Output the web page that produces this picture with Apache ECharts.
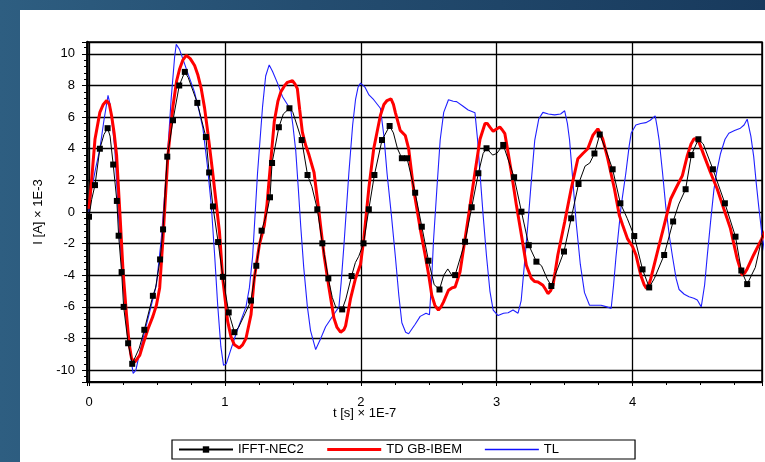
<!DOCTYPE html>
<html><head><meta charset="utf-8">
<script src="https://cdn.jsdelivr.net/npm/echarts@6/dist/echarts.min.js"></script>
<style>
html,body{margin:0;padding:0;width:765px;height:462px;overflow:hidden;}
body{background:linear-gradient(to right,#2e5e81 0%,#244d70 40%,#183a5d 100%);position:relative;}
#panel{position:absolute;left:20px;top:10px;width:745px;height:452px;background:#fff;}
#chart{position:absolute;left:0;top:0;width:765px;height:462px;}
</style></head><body><div id="panel"></div><div id="chart"></div>
<script>
// tick labels
const xTickLabels = [0, 1, 2, 3, 4];
const yTickLabels = [-10, -8, -6, -4, -2, 0, 2, 4, 6, 8, 10];
const seriesNames = ['IFFT-NEC2', 'TD GB-IBEM', 'TL'];

// IFFT-NEC2: [t, I, hasMarker]
const nec2 = [
[0.0,-0.3,1],[0.02,0.8,0],[0.044,1.7,1],[0.08,4.0,1],[0.11,4.9,0],[0.137,5.3,1],[0.155,4.8,0],
[0.178,3.0,1],[0.205,0.7,1],[0.218,-1.5,1],[0.24,-3.8,1],[0.255,-6.0,1],[0.288,-8.3,1],[0.318,-9.6,1],
[0.33,-9.5,0],[0.37,-8.6,0],[0.407,-7.45,1],[0.47,-5.3,1],[0.49,-4.8,0],[0.523,-3.0,1],[0.545,-1.1,1],
[0.56,1.2,0],[0.576,3.5,1],[0.618,5.8,1],[0.664,8.0,1],[0.705,8.86,1],[0.73,8.5,0],[0.797,6.9,1],
[0.86,4.74,1],[0.884,2.5,1],[0.912,0.35,1],[0.95,-1.9,1],[0.985,-4.1,1],[1.028,-6.35,1],[1.07,-7.6,1],
[1.10,-7.3,0],[1.15,-6.4,0],[1.192,-5.6,1],[1.231,-3.4,1],[1.27,-1.18,1],[1.29,-0.6,0],[1.31,0.0,0],
[1.332,0.93,1],[1.347,3.1,1],[1.397,5.36,1],[1.43,6.2,0],[1.475,6.56,1],[1.50,6.3,0],[1.565,4.55,1],
[1.608,2.34,1],[1.64,1.6,0],[1.68,0.17,1],[1.717,-1.98,1],[1.761,-4.2,1],[1.79,-5.4,0],[1.815,-6.0,0],
[1.863,-6.16,1],[1.89,-5.5,0],[1.932,-4.05,1],[1.96,-3.2,0],[1.985,-2.8,0],[2.02,-1.98,1],[2.059,0.17,1],
[2.1,2.34,1],[2.156,4.55,1],[2.212,5.44,1],[2.24,5.0,0],[2.27,4.0,0],[2.302,3.4,1],[2.34,3.4,1],
[2.4,1.22,1],[2.449,-0.93,1],[2.498,-3.08,1],[2.54,-4.6,0],[2.579,-4.9,1],[2.61,-4.0,0],[2.64,-3.6,0],
[2.67,-4.0,0],[2.694,-3.99,1],[2.767,-1.88,1],[2.816,0.3,1],[2.865,2.45,1],[2.90,3.7,0],[2.925,4.03,1],
[2.97,3.6,0],[3.0,3.7,0],[3.048,4.24,1],[3.128,2.2,1],[3.182,0.02,1],[3.236,-2.1,1],[3.292,-3.14,1],
[3.33,-3.4,0],[3.37,-4.2,0],[3.402,-4.68,1],[3.43,-4.0,0],[3.495,-2.5,1],[3.548,-0.4,1],[3.602,1.77,1],
[3.65,2.9,0],[3.685,3.1,0],[3.719,3.7,1],[3.758,4.9,1],[3.80,4.0,0],[3.853,2.7,1],[3.91,0.55,1],
[3.96,-0.4,0],[4.012,-1.52,1],[4.073,-3.63,1],[4.122,-4.77,1],[4.16,-4.2,0],[4.232,-2.72,1],[4.298,-0.6,1],
[4.34,0.5,0],[4.39,1.44,1],[4.432,3.6,1],[4.484,4.6,1],[4.52,4.3,0],[4.591,2.7,1],[4.679,0.55,1],
[4.757,-1.56,1],[4.8,-3.7,1],[4.843,-4.56,1],[4.903,-3.5,0],[4.95,-1.7,0],[4.99,-0.5,0]
];

// TD GB-IBEM: [t, I]
const tdgb = [
[0.0,0.2],[0.02,2.1],[0.044,4.6],[0.08,6.3],[0.105,6.8],[0.13,7.05],[0.15,6.8],[0.166,6.1],[0.185,5.0],
[0.203,3.6],[0.227,0.0],[0.251,-3.8],[0.276,-6.5],[0.295,-8.3],[0.313,-9.26],[0.337,-9.5],[0.374,-9.05],
[0.40,-8.3],[0.434,-7.4],[0.47,-6.6],[0.496,-5.9],[0.52,-4.8],[0.544,-1.7],[0.581,3.6],[0.618,6.7],
[0.645,8.3],[0.667,9.05],[0.69,9.6],[0.716,9.9],[0.745,9.7],[0.777,9.26],[0.80,8.7],[0.826,7.8],
[0.85,6.6],[0.874,5.05],[0.91,2.5],[0.96,-1.26],[0.984,-4.2],[1.02,-6.9],[1.045,-7.9],[1.07,-8.4],
[1.106,-8.6],[1.13,-8.4],[1.155,-8.0],[1.192,-6.5],[1.216,-4.2],[1.253,-2.1],[1.29,-0.84],[1.31,0.5],
[1.326,2.1],[1.363,5.7],[1.39,7.0],[1.412,7.6],[1.44,8.0],[1.46,8.2],[1.497,8.3],[1.515,8.1],[1.533,7.8],
[1.55,6.5],[1.57,5.05],[1.595,4.2],[1.619,3.6],[1.656,2.5],[1.692,0.0],[1.729,-2.7],[1.766,-4.8],
[1.802,-6.7],[1.825,-7.3],[1.851,-7.6],[1.875,-7.45],[1.888,-7.2],[1.905,-6.4],[1.924,-5.5],[1.961,-4.2],
[1.998,-3.3],[2.022,-1.7],[2.059,1.5],[2.095,4.0],[2.144,6.1],[2.17,6.8],[2.193,7.05],[2.222,7.16],
[2.24,6.8],[2.254,6.3],[2.29,5.16],[2.327,4.84],[2.352,4.0],[2.388,1.47],[2.437,-1.05],[2.473,-2.7],
[2.50,-4.0],[2.522,-5.26],[2.545,-5.9],[2.571,-6.2],[2.59,-6.0],[2.608,-5.7],[2.645,-4.95],[2.67,-4.8],
[2.694,-4.74],[2.73,-3.8],[2.767,-1.7],[2.804,0.42],[2.84,2.5],[2.877,4.6],[2.914,5.6],[2.93,5.6],
[2.95,5.37],[2.974,5.1],[2.99,5.2],[3.023,5.37],[3.04,5.2],[3.06,4.95],[3.085,3.7],[3.108,2.5],
[3.145,0.42],[3.182,-1.47],[3.218,-3.37],[3.255,-4.2],[3.28,-4.4],[3.304,-4.42],[3.34,-4.63],[3.36,-4.9],
[3.377,-5.16],[3.395,-5.0],[3.414,-4.63],[3.43,-3.8],[3.45,-2.7],[3.50,-0.63],[3.548,1.47],[3.597,3.37],
[3.634,3.7],[3.67,4.0],[3.707,4.84],[3.744,5.26],[3.76,5.0],[3.78,4.63],[3.817,3.37],[3.866,1.47],
[3.902,-0.2],[3.927,-0.84],[3.963,-1.7],[4.0,-2.2],[4.024,-2.7],[4.06,-4.0],[4.085,-4.6],[4.102,-4.84],
[4.12,-4.6],[4.134,-4.2],[4.183,-2.5],[4.232,-0.84],[4.281,0.84],[4.317,1.47],[4.366,2.3],[4.403,3.58],
[4.43,4.3],[4.452,4.63],[4.47,4.6],[4.488,4.42],[4.525,3.58],[4.573,2.5],[4.622,1.47],[4.671,0.2],
[4.72,-1.05],[4.769,-2.95],[4.806,-4.0],[4.825,-3.85],[4.843,-3.6],[4.891,-2.7],[4.95,-1.7],[4.99,-0.9]
];

// TL: [t, I]
const tl = [
[0.0,0.0],[0.02,1.5],[0.05,2.8],[0.08,4.0],[0.11,5.8],[0.14,7.37],[0.155,6.8],[0.19,4.0],[0.215,0.0],
[0.244,-3.8],[0.276,-6.9],[0.30,-8.8],[0.325,-10.2],[0.345,-10.0],[0.37,-9.0],[0.40,-7.9],[0.447,-6.3],
[0.496,-4.6],[0.532,-1.7],[0.569,2.5],[0.605,7.2],[0.63,9.8],[0.642,10.6],[0.665,10.3],[0.69,9.7],
[0.73,8.7],[0.776,7.6],[0.81,6.4],[0.838,5.3],[0.87,3.0],[0.90,0.4],[0.925,-2.8],[0.947,-5.9],
[0.97,-8.5],[0.99,-9.7],[1.01,-9.6],[1.04,-8.8],[1.082,-7.7],[1.155,-6.0],[1.18,-4.8],[1.204,-2.8],
[1.24,2.45],[1.277,6.66],[1.30,8.6],[1.326,9.3],[1.35,8.9],[1.387,8.15],[1.423,7.3],[1.46,6.8],
[1.485,6.45],[1.50,5.5],[1.521,3.9],[1.54,1.5],[1.558,-0.9],[1.58,-3.5],[1.607,-6.0],[1.63,-7.5],
[1.668,-8.7],[1.70,-8.1],[1.741,-7.26],[1.80,-6.5],[1.839,-6.0],[1.855,-4.5],[1.875,-2.2],[1.912,2.45],
[1.94,5.5],[1.961,7.1],[1.98,7.9],[1.998,8.15],[2.03,7.9],[2.06,7.4],[2.095,7.1],[2.144,6.56],
[2.17,4.8],[2.193,2.45],[2.225,-0.2],[2.254,-2.8],[2.28,-5.3],[2.302,-7.0],[2.33,-7.6],[2.352,-7.7],
[2.40,-7.1],[2.437,-6.6],[2.48,-6.4],[2.505,-6.5],[2.52,-4.5],[2.535,-1.8],[2.56,1.5],[2.584,4.55],
[2.61,6.3],[2.645,7.1],[2.68,7.0],[2.705,6.98],[2.75,6.7],[2.79,6.45],[2.84,6.27],[2.86,4.5],
[2.877,2.45],[2.90,-0.2],[2.925,-2.8],[2.95,-5.0],[2.974,-6.2],[3.01,-6.55],[3.05,-6.4],[3.084,-6.37],
[3.12,-6.2],[3.157,-6.4],[3.18,-5.6],[3.205,-3.2],[3.23,-0.7],[3.255,2.0],[3.28,4.55],[3.31,5.9],
[3.34,6.3],[3.38,6.2],[3.426,6.14],[3.47,6.2],[3.50,6.4],[3.52,5.6],[3.536,4.55],[3.56,2.0],
[3.585,-0.7],[3.615,-3.3],[3.646,-5.1],[3.683,-5.9],[3.72,-5.9],[3.768,-5.9],[3.81,-6.0],[3.842,-6.1],
[3.86,-4.6],[3.878,-2.8],[3.915,0.34],[3.95,2.45],[3.975,4.2],[3.99,5.0],[4.024,5.5],[4.06,5.6],
[4.097,5.65],[4.13,5.8],[4.166,6.08],[4.18,5.4],[4.195,4.55],[4.22,2.5],[4.244,0.34],[4.27,-1.5],
[4.293,-2.8],[4.32,-4.2],[4.342,-4.9],[4.38,-5.2],[4.415,-5.36],[4.45,-5.45],[4.476,-5.57],[4.505,-6.0],
[4.53,-4.6],[4.549,-2.8],[4.575,-0.5],[4.598,1.4],[4.62,2.6],[4.647,3.7],[4.68,4.6],[4.708,4.98],
[4.75,5.15],[4.793,5.3],[4.82,5.5],[4.843,5.87],[4.87,4.8],[4.891,3.5],[4.91,1.8],[4.928,0.34],
[4.95,-1.3],[4.98,-3.0]
];

const FONT = 'Liberation Sans, Arial, sans-serif';
const isTick = (v, list) => list.some(t => Math.abs(t - v) < 1e-6);
const hidden = {color: 'rgba(0,0,0,0)', borderWidth: 0};

const chart = echarts.init(document.getElementById('chart'), null, {renderer: 'canvas'});
chart.setOption({
  animation: false,
  backgroundColor: 'transparent',
  textStyle: {fontFamily: FONT},
  grid: {left: 87, right: 0, top: 42, bottom: 80, show: true, borderColor: '#000', borderWidth: 1.5, backgroundColor: 'transparent'},
  legend: {
    data: [
      {name: seriesNames[0], itemStyle: {color: '#000'}},
      {name: seriesNames[1], itemStyle: hidden, lineStyle: {width: 3}},
      {name: seriesNames[2], itemStyle: hidden, lineStyle: {width: 1.6, color: '#1010ff'}}
    ],
    left: 172, top: 440,
    backgroundColor: '#fff', borderColor: '#000', borderWidth: 1.2, borderRadius: 0,
    padding: [3, 76, 3, 6],
    itemWidth: 54, itemHeight: 8, itemGap: 22,
    textStyle: {fontFamily: FONT, fontSize: 13, color: '#000'}
  },
  graphic: [
    {type: 'text', left: 333, top: 407, style: {text: 't [s] \u00d7 1E-7', font: '13px ' + FONT, fill: '#000'}}
  ],
  xAxis: {
    type: 'value', min: -0.0147, max: 4.952, splitNumber: 5,
    axisLine: {show: true, onZero: false, lineStyle: {color: '#000', width: 2}},
    axisTick: {show: true, length: 4, lineStyle: {color: '#000', width: 1}},
    minorTick: {show: true, splitNumber: 4, length: 3, lineStyle: {color: '#000', width: 1}},
    axisLabel: {margin: 14, color: '#000', fontSize: 13, fontFamily: FONT,
      formatter: v => isTick(v, xTickLabels) ? String(Math.round(v)) : ''},
    splitLine: {show: true, lineStyle: {color: '#000', width: 1.3}}
  },
  yAxis: {
    type: 'value', min: -10.75, max: 10.75, splitNumber: 10,
    name: 'I [A] \u00d7 1E-3', nameLocation: 'middle', nameGap: 38,
    nameTextStyle: {fontSize: 13, color: '#000', fontFamily: FONT},
    axisLine: {show: true, onZero: false, lineStyle: {color: '#000', width: 2.5}},
    axisTick: {show: true, length: 5, lineStyle: {color: '#000', width: 1}},
    minorTick: {show: true, splitNumber: 5, length: 3, lineStyle: {color: '#000', width: 1}},
    axisLabel: {margin: 12, color: '#000', fontSize: 13, fontFamily: FONT,
      formatter: v => isTick(v, yTickLabels) ? String(Math.round(v)) : ''},
    splitLine: {show: true, lineStyle: {color: '#000', width: 1.3}}
  },
  series: [
    {
      name: seriesNames[0], type: 'line', z: 4,
      symbol: 'rect', symbolSize: 6, showSymbol: true, showAllSymbol: true,
      itemStyle: {color: '#000'},
      lineStyle: {color: '#000', width: 1},
      data: nec2.map(p => ({value: [p[0], p[1]], symbol: p[2] ? 'rect' : 'none'}))
    },
    {
      name: seriesNames[1], type: 'line', z: 3, showSymbol: false, symbol: 'none',
      itemStyle: {color: '#ff0000'},
      lineStyle: {color: '#ff0000', width: 3},
      data: tdgb
    },
    {
      name: seriesNames[2], type: 'line', z: 2, showSymbol: false, symbol: 'none',
      itemStyle: {color: '#2020ff'},
      lineStyle: {color: '#2020ff', width: 1.1},
      data: tl
    }
  ]
});
</script></body></html>
